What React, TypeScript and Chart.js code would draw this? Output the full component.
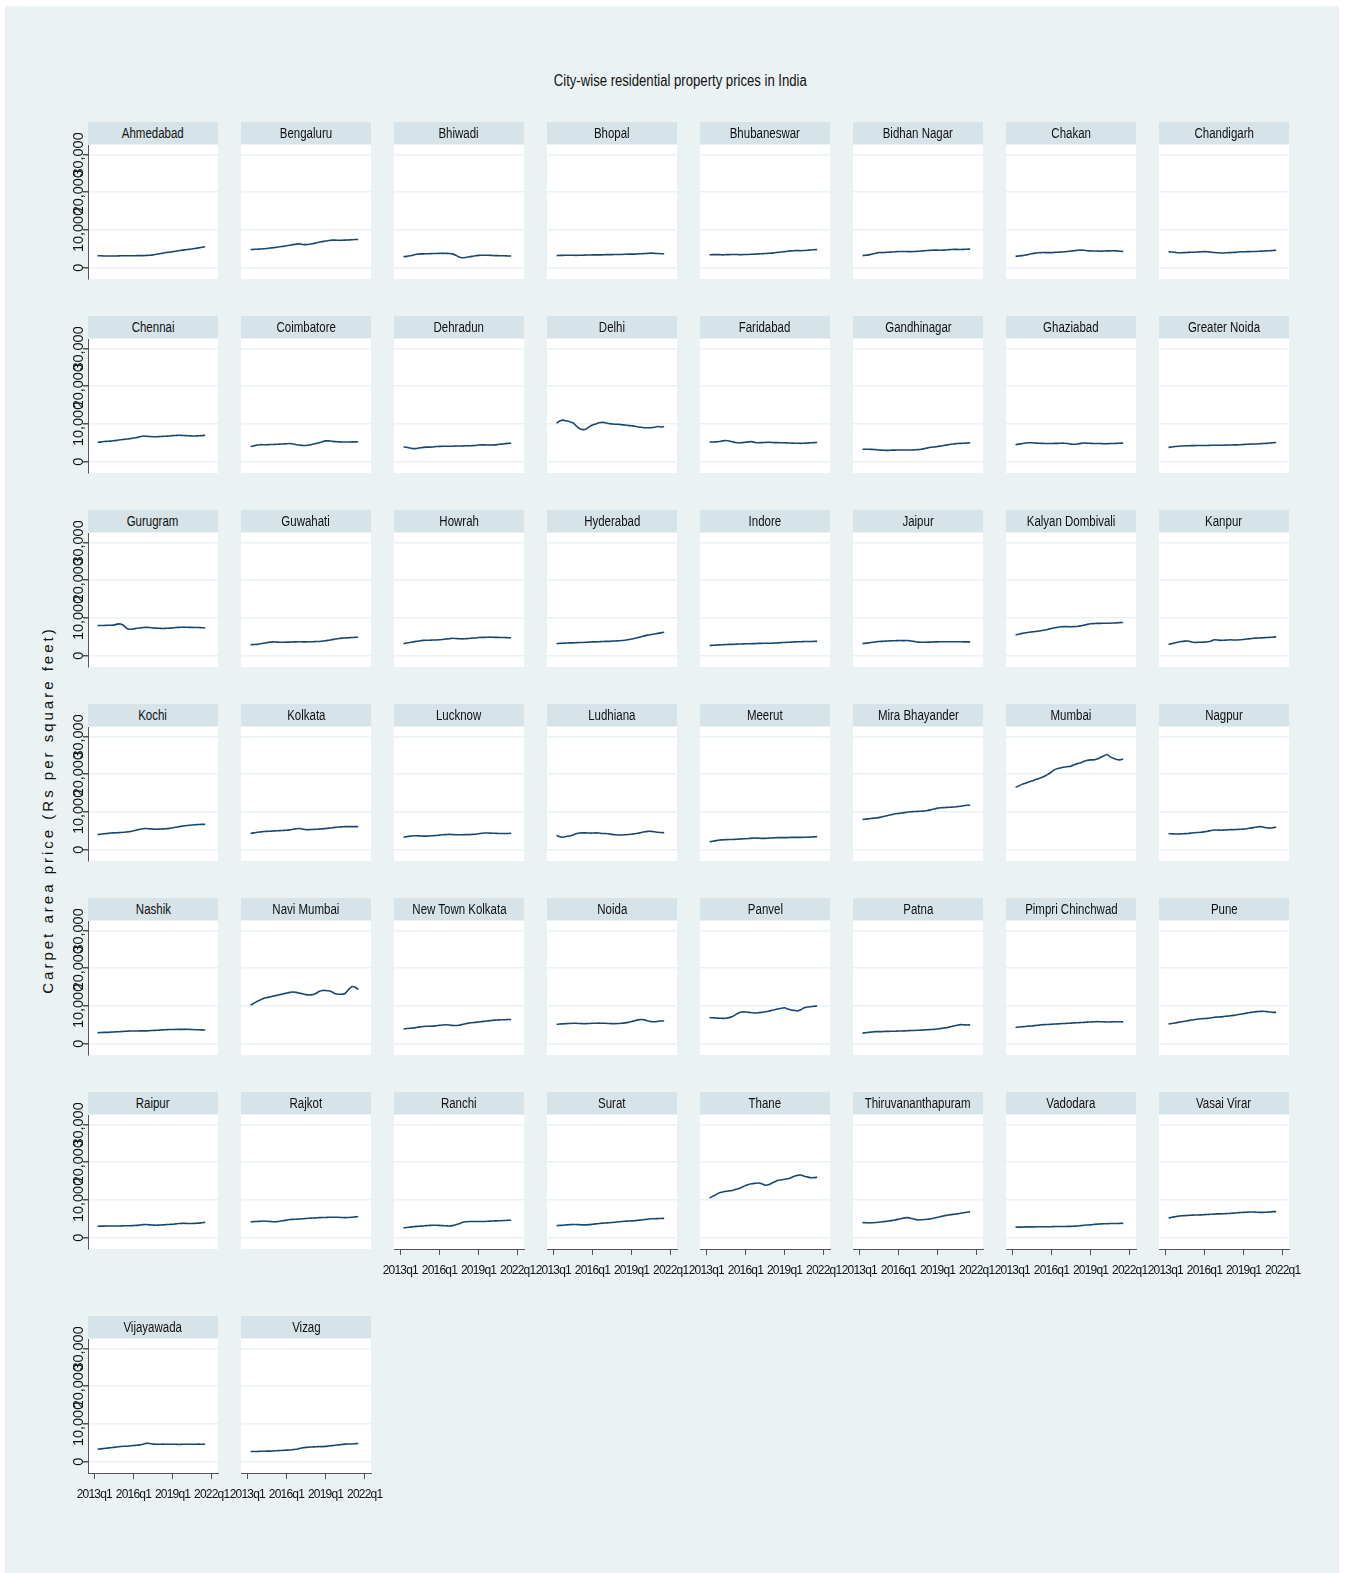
import React, { useEffect, useRef } from 'react';
import { Chart, registerables } from 'chart.js';
Chart.register(...registerables);

// ---------------- data ----------------
const QUARTERS = [
  '2013q2','2013q3','2013q4','2014q1','2014q2','2014q3','2014q4','2015q1','2015q2','2015q3','2015q4',
  '2016q1','2016q2','2016q3','2016q4','2017q1','2017q2','2017q3','2017q4','2018q1','2018q2','2018q3',
  '2018q4','2019q1','2019q2','2019q3','2019q4','2020q1','2020q2','2020q3','2020q4','2021q1','2021q2','2021q3',
];
const X_TICK_LABELS = ['2013q1', '2016q1', '2019q1', '2022q1'];
const Y_TICKS = [0, 10000, 20000, 30000];

const CITIES = [
  'Ahmedabad','Bengaluru','Bhiwadi','Bhopal','Bhubaneswar','Bidhan Nagar','Chakan','Chandigarh',
  'Chennai','Coimbatore','Dehradun','Delhi','Faridabad','Gandhinagar','Ghaziabad','Greater Noida',
  'Gurugram','Guwahati','Howrah','Hyderabad','Indore','Jaipur','Kalyan Dombivali','Kanpur',
  'Kochi','Kolkata','Lucknow','Ludhiana','Meerut','Mira Bhayander','Mumbai','Nagpur',
  'Nashik','Navi Mumbai','New Town Kolkata','Noida','Panvel','Patna','Pimpri Chinchwad','Pune',
  'Raipur','Rajkot','Ranchi','Surat','Thane','Thiruvananthapuram','Vadodara','Vasai Virar',
  'Vijayawada','Vizag',
];

const AHMEDABAD = [3200,3150,3100,3100,3100,3100,3100,3150,3150,3150,3150,3150,3200,3200,3200,3250,3300,3400,3550,3700,3850,4000,4100,4250,4350,4500,4650,4750,4850,4950,5100,5250,5400,5600];
const BENGALURU = [4800,4850,4900,4950,5000,5100,5200,5300,5400,5550,5650,5800,5950,6100,6250,6300,6150,6100,6200,6350,6550,6750,6900,7050,7200,7300,7300,7250,7250,7300,7350,7400,7450,7450];
const BHIWADI = [2900,3000,3150,3350,3550,3650,3650,3700,3700,3750,3750,3800,3800,3800,3750,3650,3300,2850,2650,2700,2850,3000,3150,3250,3300,3300,3300,3250,3200,3200,3150,3150,3100,3100];
const BHOPAL = [3200,3250,3250,3300,3300,3300,3250,3300,3300,3350,3350,3400,3400,3400,3400,3450,3450,3450,3500,3500,3500,3550,3600,3600,3600,3650,3700,3750,3800,3850,3800,3750,3700,3700];
const BHUBANESWAR = [3400,3450,3450,3450,3400,3450,3450,3500,3500,3450,3450,3500,3500,3550,3600,3650,3700,3750,3800,3850,3950,4050,4150,4250,4350,4450,4500,4550,4500,4550,4600,4700,4750,4800];
const BIDHAN_NAGAR = [3200,3300,3400,3600,3800,4000,4000,4050,4100,4150,4200,4300,4300,4300,4250,4250,4300,4350,4400,4500,4550,4600,4650,4650,4600,4650,4750,4800,4850,4850,4800,4850,4900,4950];
const CHAKAN = [3000,3100,3200,3350,3500,3700,3850,3950,4000,4000,4000,4000,4050,4100,4150,4200,4300,4400,4500,4600,4650,4600,4500,4450,4400,4400,4350,4400,4450,4450,4500,4450,4350,4300];
const CHANDIGARH = [4200,4150,4050,3950,3950,4000,4050,4100,4100,4150,4200,4250,4200,4100,4000,3950,3900,3900,3950,4000,4050,4100,4200,4200,4250,4250,4300,4300,4350,4400,4450,4500,4550,4600];
const CHENNAI = [5100,5250,5350,5400,5450,5550,5650,5800,5900,6000,6100,6250,6400,6600,6800,6750,6650,6600,6600,6650,6700,6750,6800,6900,6950,7000,6950,6900,6850,6800,6800,6850,6900,7000];
const COIMBATORE = [4000,4200,4400,4500,4500,4500,4550,4550,4600,4650,4700,4750,4800,4700,4500,4400,4300,4300,4400,4600,4800,5000,5300,5500,5500,5400,5300,5250,5200,5200,5200,5250,5250,5300];
const DEHRADUN = [3900,3800,3600,3450,3500,3650,3800,3850,3850,3900,4000,4050,4100,4100,4100,4100,4150,4150,4150,4200,4200,4250,4300,4400,4450,4450,4400,4400,4450,4550,4650,4750,4850,4900];
const DELHI = [10200,10800,11000,10800,10600,10300,9500,8800,8500,8600,9200,9700,10000,10300,10400,10300,10100,10000,9900,9900,9800,9700,9600,9500,9400,9200,9100,9000,9000,9000,9100,9300,9200,9300];
const FARIDABAD = [5200,5200,5250,5350,5500,5600,5500,5300,5100,5000,5050,5150,5250,5300,5100,5000,5050,5100,5150,5100,5050,5050,5000,5000,4950,4950,4900,4900,4850,4900,4950,5000,5050,5100];
const GANDHINAGAR = [3300,3300,3300,3250,3200,3100,3050,3000,3000,3050,3050,3100,3100,3100,3100,3100,3150,3200,3300,3450,3650,3800,3900,4000,4150,4300,4450,4600,4700,4800,4850,4900,4950,5000];
const GHAZIABAD = [4500,4650,4800,4950,5000,5000,4950,4900,4850,4800,4800,4800,4850,4850,4900,4900,4800,4650,4600,4700,4850,4950,4900,4850,4800,4800,4800,4750,4750,4800,4800,4850,4900,4950];
const GREATER_NOIDA = [3800,3900,4000,4100,4150,4200,4200,4250,4250,4300,4300,4300,4300,4350,4350,4350,4350,4350,4400,4400,4450,4450,4500,4550,4600,4650,4700,4700,4750,4800,4850,4950,5000,5100];
const GURUGRAM = [8000,8000,8000,8050,8050,8100,8350,8400,8000,7200,7000,7100,7250,7350,7450,7500,7450,7350,7300,7250,7200,7250,7300,7350,7450,7500,7550,7550,7500,7500,7450,7450,7400,7400];
const GUWAHATI = [2900,2950,3000,3150,3300,3450,3600,3650,3600,3550,3550,3600,3600,3650,3650,3700,3650,3650,3700,3700,3750,3750,3850,3950,4100,4250,4400,4550,4650,4700,4750,4800,4850,4900];
const HOWRAH = [3200,3350,3500,3650,3800,3950,4050,4100,4100,4150,4150,4200,4300,4400,4500,4600,4550,4500,4450,4500,4550,4650,4700,4800,4850,4850,4900,4900,4850,4850,4800,4800,4750,4750];
const HYDERABAD = [3200,3250,3300,3350,3400,3400,3450,3500,3500,3550,3600,3650,3650,3700,3750,3800,3800,3850,3900,3950,4000,4100,4250,4400,4600,4800,5000,5250,5450,5600,5750,5900,6050,6200];
const INDORE = [2700,2750,2800,2850,2900,2950,3000,3000,3050,3100,3100,3150,3150,3200,3200,3250,3250,3300,3300,3300,3350,3400,3450,3500,3550,3600,3650,3700,3700,3750,3750,3750,3800,3800];
const JAIPUR = [3200,3300,3400,3550,3650,3750,3800,3850,3900,3950,3950,4000,4000,4000,4000,3900,3750,3600,3550,3550,3600,3600,3650,3650,3700,3700,3700,3700,3700,3700,3700,3650,3650,3650];
const KALYAN_DOMBIVALI = [5500,5700,5900,6050,6200,6300,6400,6500,6650,6800,7000,7200,7400,7550,7650,7700,7700,7650,7700,7750,7900,8100,8300,8450,8500,8550,8550,8600,8600,8600,8650,8700,8750,8800];
const KANPUR = [3000,3200,3400,3600,3750,3850,3900,3600,3500,3550,3550,3600,3700,3850,4200,4150,4050,4100,4150,4200,4150,4150,4200,4300,4400,4500,4600,4650,4700,4750,4800,4850,4900,5000];
const KOCHI = [4000,4100,4200,4300,4400,4450,4500,4550,4600,4700,4800,5000,5200,5400,5550,5600,5500,5450,5400,5450,5500,5550,5650,5800,5950,6100,6250,6350,6450,6550,6600,6650,6700,6700];
const KOLKATA = [4300,4450,4600,4700,4800,4850,4900,4950,5000,5050,5100,5150,5250,5400,5550,5600,5450,5300,5300,5350,5400,5450,5500,5600,5700,5800,5900,6000,6050,6100,6100,6100,6100,6100];
const LUCKNOW = [3300,3450,3600,3700,3700,3650,3600,3600,3650,3700,3750,3850,3950,4000,4050,4000,3950,3950,3950,4000,4000,4050,4100,4200,4350,4400,4400,4350,4350,4300,4300,4300,4300,4350];
const LUDHIANA = [3800,3400,3300,3500,3600,3900,4200,4400,4450,4450,4400,4400,4450,4400,4300,4300,4200,4050,3950,3900,3900,3950,4000,4100,4200,4350,4550,4750,4850,4850,4750,4600,4550,4500];
const MEERUT = [2100,2250,2400,2550,2600,2650,2700,2700,2750,2800,2850,2900,2950,3050,3100,3050,3000,3000,3050,3100,3150,3200,3200,3200,3200,3250,3250,3250,3250,3300,3300,3350,3400,3450];
const MIRA_BHAYANDER = [8000,8100,8200,8300,8400,8500,8700,8900,9100,9300,9500,9600,9700,9850,10000,10050,10100,10150,10200,10250,10400,10600,10800,11000,11100,11150,11200,11250,11300,11400,11500,11650,11750,11800];
const MUMBAI = [16500,16900,17300,17600,17900,18200,18500,18800,19100,19500,20000,20600,21200,21500,21700,21900,22000,22100,22500,22800,23000,23400,23700,23800,23800,24000,24400,24800,25200,24600,24200,23900,23800,24000];
const NAGPUR = [4200,4200,4150,4150,4200,4250,4300,4400,4500,4550,4600,4750,4900,5100,5200,5200,5150,5200,5250,5300,5300,5350,5400,5450,5550,5700,5850,6000,6100,6000,5800,5700,5800,6000];
const NASHIK = [2900,2950,3000,3000,3050,3100,3150,3200,3250,3300,3350,3350,3350,3400,3400,3400,3450,3500,3550,3600,3650,3700,3750,3750,3800,3800,3800,3800,3800,3750,3700,3700,3650,3600];
const NAVI_MUMBAI = [10200,10700,11200,11600,12000,12200,12400,12600,12800,13000,13200,13400,13600,13700,13600,13400,13200,13000,12900,13000,13300,13800,14100,14100,14000,13700,13200,13100,13100,13300,14300,15100,15000,14400];
const NEW_TOWN_KOLKATA = [3900,4000,4100,4150,4300,4450,4550,4600,4600,4650,4750,4850,4950,5000,4950,4850,4800,4900,5100,5300,5450,5550,5650,5750,5850,5950,6050,6150,6250,6300,6350,6350,6400,6400];
const NOIDA = [5100,5200,5250,5300,5350,5400,5400,5350,5300,5300,5350,5400,5400,5450,5400,5400,5350,5300,5300,5350,5400,5500,5650,5850,6100,6300,6400,6300,6000,5850,5800,5900,6000,6000];
const PANVEL = [6900,6850,6800,6750,6700,6750,6900,7200,7700,8200,8400,8400,8300,8200,8100,8200,8300,8450,8600,8800,9000,9200,9400,9500,9200,8900,8800,8700,9000,9500,9700,9800,9900,10000];
const PATNA = [2800,2900,3000,3100,3200,3200,3200,3250,3250,3300,3300,3350,3350,3400,3450,3500,3500,3550,3600,3650,3700,3750,3800,3900,4000,4150,4300,4500,4700,4900,5050,5000,4950,5000];
const PIMPRI_CHINCHWAD = [4300,4400,4500,4550,4650,4700,4800,4900,5000,5050,5100,5150,5200,5250,5300,5350,5400,5450,5500,5550,5600,5650,5700,5750,5800,5850,5800,5800,5750,5750,5800,5800,5800,5750];
const PUNE = [5200,5350,5500,5650,5800,5950,6100,6250,6400,6500,6600,6650,6700,6850,7000,7050,7100,7200,7300,7400,7500,7650,7800,7950,8100,8250,8400,8500,8550,8600,8500,8400,8300,8300];
const RAIPUR = [3000,3050,3050,3100,3100,3100,3100,3100,3150,3150,3150,3200,3250,3350,3450,3500,3400,3350,3300,3350,3400,3450,3500,3550,3650,3750,3800,3800,3750,3750,3800,3850,3950,4050];
const RAJKOT = [4200,4250,4300,4350,4400,4350,4300,4200,4250,4350,4500,4650,4800,4850,4900,4950,5000,5100,5150,5200,5250,5300,5350,5350,5400,5400,5400,5400,5350,5300,5350,5400,5500,5600];
const RANCHI = [2600,2700,2800,2900,3000,3050,3100,3200,3250,3300,3300,3250,3200,3150,3100,3200,3400,3700,4000,4200,4300,4300,4300,4300,4300,4300,4350,4400,4450,4500,4500,4550,4600,4600];
const SURAT = [3200,3250,3300,3400,3450,3500,3500,3450,3400,3400,3450,3550,3650,3750,3850,3900,3950,4000,4100,4200,4300,4350,4400,4450,4500,4600,4700,4800,4900,5000,5000,5050,5100,5100];
const THANE = [10500,11000,11400,11900,12100,12300,12400,12500,12800,13000,13400,13800,14100,14300,14400,14500,14300,13900,14000,14400,14800,15200,15300,15500,15600,15900,16300,16500,16600,16300,16100,15900,15900,16000];
const THIRUVANANTHAPURAM = [4000,3950,3900,3950,4000,4100,4200,4300,4400,4550,4700,4900,5100,5250,5300,5100,4900,4700,4750,4800,4900,5000,5200,5400,5600,5800,5950,6100,6200,6300,6450,6600,6750,6900];
const VADODARA = [2800,2800,2800,2850,2850,2850,2850,2900,2900,2900,2900,2900,2950,2950,2950,2950,3000,3000,3050,3100,3200,3300,3350,3400,3500,3600,3650,3700,3700,3750,3750,3750,3800,3800];
const VASAI_VIRAR = [5200,5400,5550,5700,5800,5850,5900,5950,6000,6000,6050,6100,6150,6200,6250,6300,6300,6350,6400,6450,6500,6600,6650,6700,6750,6800,6800,6750,6700,6700,6750,6800,6900,6900];
const VIJAYAWADA = [3300,3400,3500,3600,3700,3800,3900,4000,4100,4100,4200,4300,4350,4450,4600,4900,4800,4650,4600,4600,4650,4600,4600,4600,4600,4550,4600,4600,4600,4600,4600,4650,4600,4600];
const VIZAG = [2700,2700,2700,2750,2750,2800,2800,2850,2900,2950,3000,3050,3100,3200,3300,3500,3700,3800,3850,3900,3950,4000,4000,4050,4150,4250,4350,4450,4550,4650,4700,4700,4750,4800];

const SERIES: Record<string, number[]> = {
  'Ahmedabad': AHMEDABAD, 'Bengaluru': BENGALURU, 'Bhiwadi': BHIWADI, 'Bhopal': BHOPAL,
  'Bhubaneswar': BHUBANESWAR, 'Bidhan Nagar': BIDHAN_NAGAR, 'Chakan': CHAKAN, 'Chandigarh': CHANDIGARH,
  'Chennai': CHENNAI, 'Coimbatore': COIMBATORE, 'Dehradun': DEHRADUN, 'Delhi': DELHI,
  'Faridabad': FARIDABAD, 'Gandhinagar': GANDHINAGAR, 'Ghaziabad': GHAZIABAD, 'Greater Noida': GREATER_NOIDA,
  'Gurugram': GURUGRAM, 'Guwahati': GUWAHATI, 'Howrah': HOWRAH, 'Hyderabad': HYDERABAD,
  'Indore': INDORE, 'Jaipur': JAIPUR, 'Kalyan Dombivali': KALYAN_DOMBIVALI, 'Kanpur': KANPUR,
  'Kochi': KOCHI, 'Kolkata': KOLKATA, 'Lucknow': LUCKNOW, 'Ludhiana': LUDHIANA,
  'Meerut': MEERUT, 'Mira Bhayander': MIRA_BHAYANDER, 'Mumbai': MUMBAI, 'Nagpur': NAGPUR,
  'Nashik': NASHIK, 'Navi Mumbai': NAVI_MUMBAI, 'New Town Kolkata': NEW_TOWN_KOLKATA, 'Noida': NOIDA,
  'Panvel': PANVEL, 'Patna': PATNA, 'Pimpri Chinchwad': PIMPRI_CHINCHWAD, 'Pune': PUNE,
  'Raipur': RAIPUR, 'Rajkot': RAJKOT, 'Ranchi': RANCHI, 'Surat': SURAT,
  'Thane': THANE, 'Thiruvananthapuram': THIRUVANANTHAPURAM, 'Vadodara': VADODARA, 'Vasai Virar': VASAI_VIRAR,
  'Vijayawada': VIJAYAWADA, 'Vizag': VIZAG,
};

// ---------------- style / layout ----------------
const TITLE = 'City-wise residential property prices in India';
const Y_TITLE = 'Carpet area price (Rs per square feet)';
const NAVY = '#1a476f';
const GRID = '#eaf2f3';
const BG = '#eaf2f3';
const STRIP = '#d6e3e8';
const AXIS = '#555555';
const FONT = "'Liberation Sans', Arial, sans-serif";
const NARROW_SCALE = 0.82;

const NCOL = 8;
const PLOT_W = 130;
const PLOT_H = 134;
const COL_X0 = 88;
const COL_STEP = 153;
const ROW_Y0 = 145;
const ROW_STEP = 194;
const LAST_ROW_Y = 1339;
const PAD_L = 50;
const PAD_R = 25;
const PAD_T = 12;
const PAD_B = 40;
const XAXIS_H = 32;
const X_MIN = -1.93;
const X_MAX = 37.93;
const Y_MIN = -3000;
const Y_MAX = 32500;

function quarterIndex(label: string): number {
  const year = parseInt(label.slice(0, 4), 10);
  const q = parseInt(label.slice(5), 10);
  return (year - 2013) * 4 + (q - 1);
}
const X_TICK_VALUES = X_TICK_LABELS.map(quarterIndex);

function Panel({ idx }: { idx: number }) {
  const ref = useRef<HTMLCanvasElement>(null);
  const city = CITIES[idx];
  const col = idx % NCOL;
  const row = Math.floor(idx / NCOL);
  const isBottom = idx + NCOL >= CITIES.length;
  const isLeft = col === 0;
  const plotLeft = COL_X0 + COL_STEP * col;
  const plotTop = row < 6 ? ROW_Y0 + ROW_STEP * row : LAST_ROW_Y;
  const cw = PLOT_W + PAD_L + PAD_R;
  const ch = PLOT_H + PAD_T + PAD_B;

  useEffect(() => {
    const values = SERIES[city];
    const chart = new Chart(ref.current as HTMLCanvasElement, {
      type: 'line',
      data: {
        datasets: [{
          data: QUARTERS.map((q, i) => ({ x: quarterIndex(q), y: values[i] })),
          borderColor: NAVY,
          borderWidth: 1.6,
          pointRadius: 0,
          tension: 0.2,
          fill: false,
        }],
      },
      options: {
        responsive: false,
        animation: false,
        events: [],
        layout: {
          padding: {
            left: isLeft ? 0 : PAD_L,
            right: PAD_R,
            top: PAD_T,
            bottom: isBottom ? PAD_B - XAXIS_H : PAD_B,
          },
        },
        plugins: { legend: { display: false }, tooltip: { enabled: false }, title: { display: false } },
        scales: {
          x: {
            type: 'linear',
            min: X_MIN,
            max: X_MAX,
            display: isBottom,
            afterBuildTicks: (s: any) => { s.ticks = X_TICK_VALUES.map((v) => ({ value: v })); },
            afterFit: (s: any) => {
              if (!isBottom) return;
              s.height = XAXIS_H;
              if (!s.__condensed) {
                const orig = s.drawLabels.bind(s);
                s.drawLabels = (area: any) => {
                  const ctx = s.ctx;
                  ctx.save();
                  ctx.letterSpacing = '-0.8px';
                  orig(area);
                  ctx.restore();
                };
                s.__condensed = true;
              }
            },
            grid: { drawOnChartArea: false, drawTicks: true, tickLength: 6, tickColor: AXIS, color: AXIS },
            border: { display: true, color: AXIS, width: 1 },
            ticks: {
              autoSkip: false,
              maxRotation: 0,
              minRotation: 0,
              padding: 8,
              color: '#111',
              font: { family: FONT, size: 12 },
              callback: (v: any) => X_TICK_LABELS[X_TICK_VALUES.indexOf(Number(v))] ?? '',
            },
          },
          y: {
            type: 'linear',
            min: Y_MIN,
            max: Y_MAX,
            afterBuildTicks: (s: any) => { s.ticks = Y_TICKS.map((v) => ({ value: v })); },
            afterFit: (s: any) => { s.width = isLeft ? PAD_L : 0; },
            grid: { color: GRID, lineWidth: 1.5, drawTicks: isLeft, tickLength: 5, tickColor: AXIS },
            border: { display: isLeft, color: AXIS, width: 1 },
            ticks: {
              display: isLeft,
              autoSkip: false,
              minRotation: 90,
              maxRotation: 90,
              crossAlign: 'center',
              padding: -18,
              color: '#111',
              font: { family: FONT, size: 14.5 },
              callback: (v: any) => Number(v).toLocaleString('en-US'),
            },
          },
        },
      },
    } as any);
    return () => chart.destroy();
  }, [city]);

  return (
    <>
      <div style={{ position: 'absolute', left: plotLeft, top: plotTop, width: PLOT_W, height: PLOT_H, background: '#ffffff' }} />
      <div style={{
        position: 'absolute', left: plotLeft, top: plotTop - 23, width: PLOT_W, height: 22,
        background: STRIP, color: '#111', fontFamily: FONT, fontSize: 14, lineHeight: '22px',
        textAlign: 'center', whiteSpace: 'nowrap', overflow: 'hidden',
      }}>
        <span style={{ display: 'inline-block', transform: `scaleX(${NARROW_SCALE})` }}>{city}</span>
      </div>
      <canvas
        ref={ref}
        width={cw}
        height={ch}
        style={{ position: 'absolute', left: plotLeft - PAD_L, top: plotTop - PAD_T, width: cw, height: ch }}
      />
    </>
  );
}

export default function App() {
  useEffect(() => { document.body.style.margin = '0'; }, []);
  return (
    <div style={{ position: 'absolute', left: 0, top: 0, width: 1346, height: 1573, background: '#ffffff', overflow: 'hidden' }}>
      <div style={{ position: 'absolute', left: 5, top: 6, width: 1334, height: 1567, background: BG }} />
      <div style={{
        position: 'absolute', left: 380, top: 70, width: 600, height: 22, lineHeight: '22px',
        textAlign: 'center', fontFamily: FONT, fontSize: 16, color: '#111',
      }}>
        <span style={{ display: 'inline-block', transform: `scaleX(${NARROW_SCALE})` }}>{TITLE}</span>
      </div>
      <div style={{
        position: 'absolute', left: 48 - 250, top: 810 - 11, width: 500, height: 22, lineHeight: '22px',
        textAlign: 'center', fontFamily: FONT, fontSize: 15, letterSpacing: 3, color: '#111',
        transform: 'rotate(-90deg)', whiteSpace: 'nowrap',
      }}>{Y_TITLE}</div>
      {CITIES.map((c, i) => <Panel key={c} idx={i} />)}
    </div>
  );
}
